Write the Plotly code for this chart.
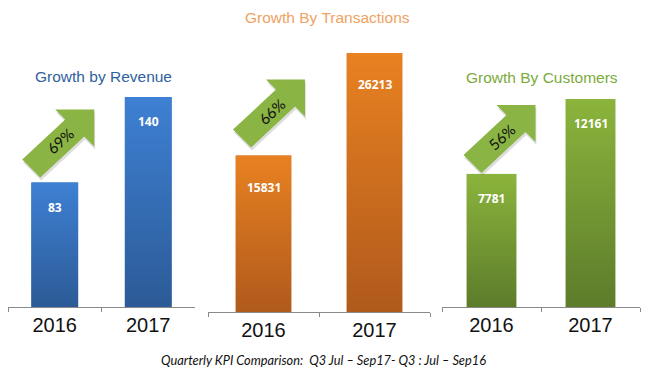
import base64
import struct
import zlib

import plotly.graph_objects as go

# ---------------- data ----------------
years = ["2016", "2017"]
revenue = [83, 140]
transactions = [15831, 26213]
customers = [7781, 12161]
growth_labels = ["69%", "66%", "56%"]
panel_titles = ["Growth by Revenue", "Growth By Transactions", "Growth By Customers"]
footer_text = "Quarterly KPI Comparison:  Q3 Jul \u2013 Sep17- Q3 : Jul \u2013 Sep16"

# ---------------- layout / style ----------------
OFF = 8  # page body margin in the browser
W, H = 655 - OFF, 381 - OFF
series = [revenue, transactions, customers]
bar_colors = ["#3470b9", "#d06e21", "#769a33"]
bar_grad = [((0x3e, 0x80, 0xd3), (0x2c, 0x5b, 0x97)),
            ((0xe8, 0x81, 0x21), (0xb0, 0x5a, 0x1c)),
            ((0x8b, 0xb4, 0x3c), (0x5d, 0x7c, 0x2b))]
title_colors = ["#2f619e", "#f0a262", "#7bab3c"]
# plot areas in window pixels: (x_left, x_right, y_top, y_bottom)
areas = [(8, 195, 97, 307), (208, 430, 53, 312), (442, 640, 99, 307)]
title_pos = [(103, 76), (327, 17), (542, 77)]
label_drop = [25, 32, 25]          # value label offset below bar top (px)
tip_offset = [(39.5, 73), (41.5, 76), (44, 69)]  # arrow tip relative to 2016 bar top (px, up)
arrow_color = "#8ab443"
shadow_color = "rgba(120,120,120,0.25)"

# arrow outline relative to tip, screen coords (y down)
arrow_pts = [(0, 0), (-39, 0), (-29, 10), (-72, 50), (-54, 68), (-10, 27), (0, 37)]


def px(x):
    return (x - OFF) / W


def py(y):
    return 1 - (y - OFF) / H


def grad_png(c1, c2, n=128):
    raw = b""
    for k in range(n):
        t = k / (n - 1)
        raw += b"\x00" + bytes(int(round(a + (b - a) * t)) for a, b in zip(c1, c2))

    def chunk(tag, data):
        return struct.pack(">I", len(data)) + tag + data + struct.pack(">I", zlib.crc32(tag + data) & 0xffffffff)

    png = b"\x89PNG\r\n\x1a\n" + chunk(b"IHDR", struct.pack(">IIBBBBB", 1, n, 8, 2, 0, 0, 0))
    png += chunk(b"IDAT", zlib.compress(raw)) + chunk(b"IEND", b"")
    return "data:image/png;base64," + base64.b64encode(png).decode()


fig = go.Figure()
images = []

for i, vals in enumerate(series):
    ax = "" if i == 0 else str(i + 1)
    fig.add_trace(go.Bar(
        x=years, y=vals,
        xaxis="x" + ax, yaxis="y" + ax,
        marker=dict(color=bar_colors[i], line=dict(width=0)),
        width=0.5, hoverinfo="skip", showlegend=False,
    ))
    x0, x1, yt, yb = areas[i]
    fig.update_layout(**{
        "xaxis" + ax: dict(
            domain=[px(x0), px(x1)], anchor="y" + ax, type="category",
            range=[-0.5, 1.5], showline=True, linecolor="#8a8a8a", linewidth=1,
            ticks="outside", tickson="boundaries", ticklen=4, tickcolor="#8a8a8a",
            tickfont=dict(family="Liberation Sans, Arial", size=20, color="#111111"),
            showgrid=False, zeroline=False, fixedrange=True,
        ),
        "yaxis" + ax: dict(
            domain=[py(yb), py(yt)], anchor="x" + ax,
            range=[0, max(vals)], visible=False, fixedrange=True,
        ),
    })
    src = grad_png(*bar_grad[i])
    for j, v in enumerate(vals):
        # gradient skin laid over each bar, sized from the bar's own value
        images.append(dict(
            source=src, xref="x" + ax, yref="y" + ax, x=j - 0.25, y=v,
            sizex=0.5, sizey=v, sizing="stretch", xanchor="left", yanchor="top",
            layer="above",
        ))
        fig.add_annotation(
            x=j, y=v, xref="x" + ax, yref="y" + ax, text="<b>%d</b>" % v,
            showarrow=False, yshift=-label_drop[i], yanchor="middle",
            font=dict(family="Open Sans", size=12, color="white"),
        )
    # growth arrow anchored on the 2016 bar top
    dx, up = tip_offset[i]
    for sh, col in ((3, shadow_color), (0, arrow_color)):
        pts = [(dx + ox + sh * 0.3, up - oy - sh) for ox, oy in arrow_pts]
        path = "M " + " L ".join("%.1f,%.1f" % p for p in pts) + " Z"
        fig.add_shape(
            type="path", path=path, xref="x" + ax, yref="y" + ax,
            xsizemode="pixel", ysizemode="pixel", xanchor=0, yanchor=vals[0],
            fillcolor=col, line=dict(width=0), layer="above",
        )
    fig.add_annotation(
        x=0, y=vals[0], xref="x" + ax, yref="y" + ax, text=growth_labels[i],
        showarrow=False, xshift=dx - 34, yshift=up - 32, textangle=-42,
        font=dict(family="Lato", size=15, color="#111111"),
    )
    # panel title
    tx, ty = title_pos[i]
    fig.add_annotation(
        x=px(tx), y=py(ty), xref="paper", yref="paper", text=panel_titles[i],
        showarrow=False, xanchor="center", yanchor="middle",
        font=dict(family="Liberation Sans, Arial", size=15.5, color=title_colors[i]),
    )

fig.add_annotation(
    x=px(323), y=py(360), xref="paper", yref="paper", text="<i>" + footer_text + "</i>",
    showarrow=False, xanchor="center", yanchor="middle",
    font=dict(family="Lato", size=12.8, color="#111111"),
)

fig.update_layout(
    width=W, height=H, margin=dict(l=0, r=0, t=0, b=0),
    paper_bgcolor="white", plot_bgcolor="white", bargap=0.5, images=images,
)

fig.write_html("out.html")
